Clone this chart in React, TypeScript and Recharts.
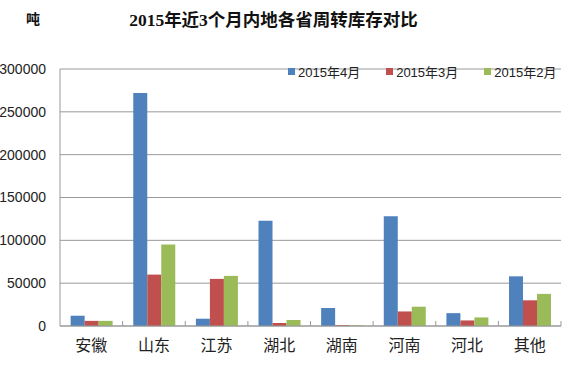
import { BarChart, Bar, XAxis, YAxis, CartesianGrid, Legend } from 'recharts';

// 各省周转库存（吨）
const PROVINCES = ['安徽', '山东', '江苏', '湖北', '湖南', '河南', '河北', '其他'];
const APR_2015 = [12000, 272000, 8500, 123000, 21000, 128000, 15000, 58000];
const MAR_2015 = [6000, 60000, 55000, 3500, 1000, 17000, 6500, 30000];
const FEB_2015 = [6000, 95000, 58500, 7000, 800, 22500, 10000, 37500];
const Y_TICKS = [0, 50000, 100000, 150000, 200000, 250000, 300000];

interface SeriesConfig {
  key: string;
  name: string;
  color: string;
}

const SERIES: SeriesConfig[] = [
  { key: 'apr', name: '2015年4月', color: '#4F81BD' },
  { key: 'mar', name: '2015年3月', color: '#C0504D' },
  { key: 'feb', name: '2015年2月', color: '#9BBB59' },
];

const data = PROVINCES.map((name, i) => ({
  name,
  apr: APR_2015[i],
  mar: MAR_2015[i],
  feb: FEB_2015[i],
}));

const PLOT_LEFT = 60;
const PLOT_RIGHT = 561;
const BAND = (PLOT_RIGHT - PLOT_LEFT) / PROVINCES.length;

function CategoryTick(props: any) {
  const { x, y, payload, index } = props;
  const left = x - BAND / 2;
  return (
    <g>
      {index > 0 && <line x1={left} x2={left} y1={y} y2={y - 5} stroke="#999" />}
      {index === PROVINCES.length - 1 && (
        <line x1={x + BAND / 2} x2={x + BAND / 2} y1={y} y2={y - 5} stroke="#999" />
      )}
      <text
        x={x}
        y={y + 25}
        textAnchor="middle"
        fontSize={16}
        fill="#222"
        fontFamily="'Noto Sans CJK SC', sans-serif"
      >
        {payload.value}
      </text>
    </g>
  );
}

function LegendContent() {
  return (
    <div style={{ display: 'flex', gap: 26, fontFamily: "'Liberation Sans', 'Noto Sans CJK SC', sans-serif", fontSize: 13, color: '#222' }}>
      {SERIES.map((s) => (
        <div key={s.key} style={{ display: 'flex', alignItems: 'center' }}>
          <span style={{ width: 7, height: 7, background: s.color, marginRight: 3, display: 'inline-block' }} />
          <span>{s.name}</span>
        </div>
      ))}
    </div>
  );
}

export default function App() {
  return (
    <div style={{ position: 'absolute', left: 0, top: 0, width: 580, height: 367, background: '#fff' }}>
      <div
        style={{
          position: 'absolute',
          left: 0,
          width: 547,
          top: 6,
          textAlign: 'center',
          fontFamily: "'Liberation Serif', 'Noto Sans CJK SC', serif",
          fontWeight: 'bold',
          fontSize: 17.5,
          color: '#111',
        }}
      >
        2015年近3个月内地各省周转库存对比
      </div>
      <div
        style={{
          position: 'absolute',
          left: 26,
          top: 8,
          fontFamily: "'Noto Sans CJK SC', sans-serif",
          fontWeight: 'bold',
          fontSize: 14,
          color: '#111',
        }}
      >
        吨
      </div>
      <BarChart
        width={580}
        height={367}
        data={data}
        margin={{ top: 50, right: 19, bottom: 11, left: 0 }}
        barCategoryGap="17%"
        barGap={0}
      >
        <CartesianGrid vertical={false} stroke="#999" />
        <XAxis
          dataKey="name"
          axisLine={{ stroke: '#999' }}
          tickLine={false}
          tickSize={0}
          tickMargin={0}
          height={30}
          tick={<CategoryTick />}
          interval={0}
        />
        <YAxis
          width={60}
          domain={[0, 300000]}
          ticks={Y_TICKS}
          axisLine={{ stroke: '#999' }}
          tickLine={false}
          tickSize={0}
          tickMargin={14}
          tick={{ fontSize: 14, fill: '#222', fontFamily: "'Liberation Sans', sans-serif" }}
        />
        <Legend
          verticalAlign="top"
          content={<LegendContent />}
          wrapperStyle={{ position: 'absolute', top: 62, left: 288, width: 'auto' }}
        />
        {SERIES.map((s) => (
          <Bar key={s.key} dataKey={s.key} name={s.name} fill={s.color} isAnimationActive={false} />
        ))}
      </BarChart>
    </div>
  );
}
